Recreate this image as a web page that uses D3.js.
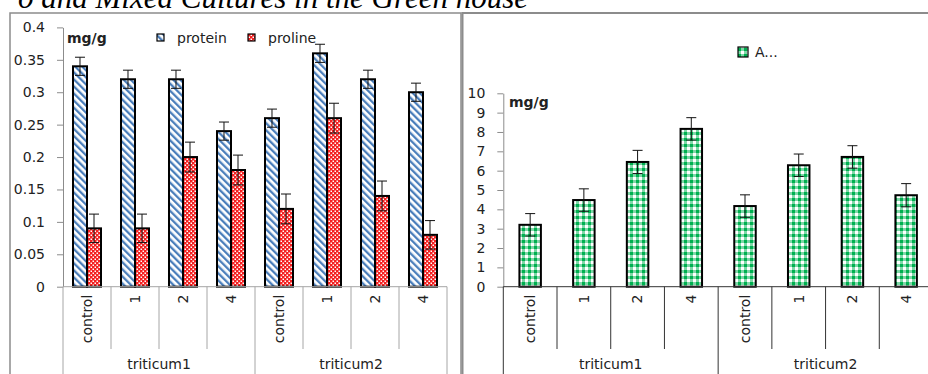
<!DOCTYPE html>
<html>
<head>
<meta charset="utf-8">
<script src="https://cdn.jsdelivr.net/npm/d3@7/dist/d3.min.js"></script>
<style>
  body { margin: 0; background: #fff; }
  svg { display: block; }
  text { font-family: "DejaVu Sans", sans-serif; fill: #222; }
</style>
</head>
<body>
<div id="chart"></div>
<script>
var groups = ["triticum1", "triticum2"];
var treatments = ["control", "1", "2", "4"];
var protein = [0.34, 0.32, 0.32, 0.24, 0.26, 0.36, 0.32, 0.30];
var proteinErr = [0.014, 0.014, 0.014, 0.014, 0.014, 0.014, 0.014, 0.014];
var proline = [0.09, 0.09, 0.20, 0.18, 0.12, 0.26, 0.14, 0.08];
var prolineErr = [0.022, 0.022, 0.023, 0.023, 0.023, 0.023, 0.023, 0.022];
var rightVals = [3.2, 4.48, 6.45, 8.16, 4.17, 6.28, 6.71, 4.73];
var rightErr = [0.58, 0.58, 0.6, 0.58, 0.58, 0.58, 0.58, 0.6];
var leftTicks = [0, 0.05, 0.1, 0.15, 0.2, 0.25, 0.3, 0.35, 0.4];
var rightTicks = [0, 1, 2, 3, 4, 5, 6, 7, 8, 9, 10];

var svg = d3.select("#chart").append("svg")
            .attr("width", 928)
            .attr("height", 374);

// categories: one per group x treatment
var cats = [];
groups.forEach(function(g){
  treatments.forEach(function(t){ cats.push(g + "|" + t); });
});

// ---- patterns
var defs = svg.append("defs");
var p1 = defs.append("pattern").attr("id", "stripes")
    .attr("patternUnits", "userSpaceOnUse")
    .attr("width", 5).attr("height", 5)
    .attr("patternTransform", "rotate(-45)");
p1.append("rect").attr("width", 5).attr("height", 5).attr("fill", "#fff");
p1.append("rect").attr("width", 2.3).attr("height", 5).attr("fill", "#4a7ebb");

var p2 = defs.append("pattern").attr("id", "dots")
    .attr("patternUnits", "userSpaceOnUse")
    .attr("width", 4).attr("height", 4);
p2.append("rect").attr("width", 4).attr("height", 4).attr("fill", "#f42020");
p2.append("rect").attr("x", 0.5).attr("y", 0.5).attr("width", 1.5).attr("height", 1.5).attr("fill", "#fff");
p2.append("rect").attr("x", 2.5).attr("y", 2.5).attr("width", 1.5).attr("height", 1.5).attr("fill", "#fff");

var p3 = defs.append("pattern").attr("id", "check")
    .attr("patternUnits", "userSpaceOnUse")
    .attr("width", 6).attr("height", 6);
p3.append("rect").attr("width", 6).attr("height", 6).attr("fill", "#fff");
p3.append("rect").attr("width", 3).attr("height", 6).attr("fill", "#00b050").attr("fill-opacity", 0.5);
p3.append("rect").attr("width", 6).attr("height", 3).attr("fill", "#00b050").attr("fill-opacity", 0.5);
p3.append("rect").attr("width", 3).attr("height", 3).attr("fill", "#00b050");

// ---- title (cut off at the top, as in the source)
svg.append("text")
    .attr("x", 528).attr("y", 8)
    .attr("text-anchor", "end")
    .style("font-family", "'Liberation Serif', serif")
    .style("font-style", "italic")
    .style("font-size", "31px")
    .style("fill", "#000")
    .text("o and Mixed Cultures in the Green house");

// ---- panel borders
svg.append("rect").attr("x", 10).attr("y", 13).attr("width", 451).attr("height", 420)
    .attr("fill", "none").attr("stroke", "#8c8c8c").attr("stroke-width", 1.5);
svg.append("rect").attr("x", 462.5).attr("y", 13).attr("width", 520).attr("height", 420)
    .attr("fill", "none").attr("stroke", "#8c8c8c").attr("stroke-width", 2);

function catAxis(g, x, y0, color) {
  var step = x.step();
  var x0 = x.range()[0];
  g.append("line")
      .attr("x1", x0).attr("x2", x.range()[1])
      .attr("y1", y0).attr("y2", y0)
      .attr("stroke", color);
  d3.range(cats.length + 1).forEach(function(i){
    var xx = x0 + i * step;
    g.append("line")
        .attr("x1", xx).attr("x2", xx)
        .attr("y1", y0).attr("y2", i % 4 === 0 ? 380 : 349)
        .attr("stroke", color);
  });
  g.selectAll(".clab").data(cats).enter().append("text")
      .attr("class", "clab")
      .attr("text-anchor", "end")
      .attr("dy", "0.35em")
      .attr("transform", function(d){ return "translate(" + (x(d) + step / 2) + "," + (y0 + 8) + ")rotate(-90)"; })
      .style("font-size", "14px")
      .text(function(d){ return d.split("|")[1]; });
  g.selectAll(".glab").data(groups).enter().append("text")
      .attr("class", "glab")
      .attr("text-anchor", "middle")
      .attr("x", function(d, i){ return x0 + (i * 4 + 2) * step; })
      .attr("y", 369)
      .style("font-size", "14px")
      .text(function(d){ return d; });
}

function yAxis(g, y, ticks, fmt, xpos) {
  var ax = g.append("g")
      .attr("transform", "translate(" + xpos + ",0)")
      .call(d3.axisLeft(y).tickValues(ticks).tickFormat(fmt).tickSize(6).tickSizeOuter(0).tickPadding(12));
  ax.select(".domain").attr("stroke", "#8c8c8c");
  ax.selectAll(".tick line").attr("stroke", "#8c8c8c");
  ax.selectAll(".tick text").style("font-size", "14px").style("font-family", "'DejaVu Sans', sans-serif").attr("fill", "#222");
}

function errBars(g, xs, vals, errs, y) {
  var sel = g.selectAll(null).data(vals).enter().append("g");
  sel.append("line")
      .attr("x1", function(d, i){ return xs(i); }).attr("x2", function(d, i){ return xs(i); })
      .attr("y1", function(d, i){ return y(d - errs[i]); })
      .attr("y2", function(d, i){ return y(d + errs[i]); })
      .attr("stroke", "#111");
  [-1, 1].forEach(function(s){
    sel.append("line")
        .attr("x1", function(d, i){ return xs(i) - 5; }).attr("x2", function(d, i){ return xs(i) + 5; })
        .attr("y1", function(d, i){ return y(d + s * errs[i]); })
        .attr("y2", function(d, i){ return y(d + s * errs[i]); })
        .attr("stroke", "#111");
  });
}

//-------------------left chart----------------------------------------
var gl = svg.append("g");
var xL = d3.scaleBand().domain(cats).range([63, 447]).padding(0);
var xSub = d3.scaleBand().domain(["protein", "proline"]).range([0, xL.bandwidth()]).paddingInner(0).paddingOuter(0.714);
var yL = d3.scaleLinear().domain([0, 0.4]).range([286.7, 27.4]);

yAxis(gl, yL, leftTicks, d3.format("~g"), 63);

gl.selectAll(".bp").data(protein).enter().append("rect")
    .attr("x", function(d, i){ return xL(cats[i]) + xSub("protein"); })
    .attr("y", function(d){ return yL(d); })
    .attr("width", xSub.bandwidth())
    .attr("height", function(d){ return yL(0) - yL(d); })
    .attr("fill", "url(#stripes)").attr("stroke", "#000").attr("stroke-width", 2);
gl.selectAll(".bq").data(proline).enter().append("rect")
    .attr("x", function(d, i){ return xL(cats[i]) + xSub("proline"); })
    .attr("y", function(d){ return yL(d); })
    .attr("width", xSub.bandwidth())
    .attr("height", function(d){ return yL(0) - yL(d); })
    .attr("fill", "url(#dots)").attr("stroke", "#000").attr("stroke-width", 2);

catAxis(gl, xL, yL(0), "#a6a6a6");

errBars(gl, function(i){ return xL(cats[i]) + xSub("protein") + xSub.bandwidth() / 2; }, protein, proteinErr, yL);
errBars(gl, function(i){ return xL(cats[i]) + xSub("proline") + xSub.bandwidth() / 2; }, proline, prolineErr, yL);

gl.append("text").attr("x", 67).attr("y", 43)
    .style("font-size", "14px").style("font-weight", "bold").text("mg/g");

var legL = [["protein", "url(#stripes)", 157], ["proline", "url(#dots)", 248]];
legL.forEach(function(l){
  gl.append("rect").attr("x", l[2]).attr("y", 34).attr("width", 7).attr("height", 7)
      .attr("fill", l[1]).attr("stroke", "#000").attr("stroke-width", 1.2);
  gl.append("text").attr("x", l[2] + 20).attr("y", 42.5).style("font-size", "14px").text(l[0]);
});

//-------------------right chart---------------------------------------
var gr = svg.append("g");
var xR = d3.scaleBand().domain(cats).range([503.3, 933]).padding(0);
var yR = d3.scaleLinear().domain([0, 10]).range([286.7, 93.3]);

yAxis(gr, yR, rightTicks, d3.format("d"), 503.3);

gr.selectAll(".br").data(rightVals).enter().append("rect")
    .attr("x", function(d, i){ return xR(cats[i]) + xR.bandwidth() * 0.3; })
    .attr("y", function(d){ return yR(d); })
    .attr("width", xR.bandwidth() * 0.4)
    .attr("height", function(d){ return yR(0) - yR(d); })
    .attr("fill", "url(#check)").attr("stroke", "#000").attr("stroke-width", 2);

catAxis(gr, xR, yR(0), "#333");

errBars(gr, function(i){ return xR(cats[i]) + xR.bandwidth() / 2; }, rightVals, rightErr, yR);

gr.append("text").attr("x", 509).attr("y", 107)
    .style("font-size", "14px").style("font-weight", "bold").text("mg/g");

gr.append("rect").attr("x", 738).attr("y", 47).attr("width", 10).attr("height", 10)
    .attr("fill", "url(#check)").attr("stroke", "#000").attr("stroke-width", 1.2);
gr.append("text").attr("x", 755).attr("y", 57).style("font-size", "14px").text("A...");
</script>
</body>
</html>
